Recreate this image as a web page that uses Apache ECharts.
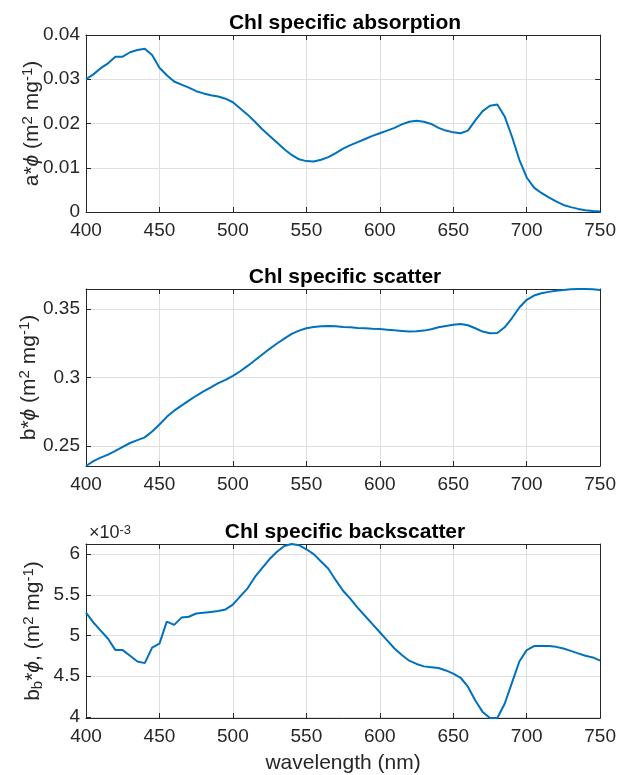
<!DOCTYPE html>
<html><head><meta charset="utf-8">
<script src="https://cdn.jsdelivr.net/npm/echarts@6/dist/echarts.min.js"></script>
<style>html,body{margin:0;padding:0;background:#fff}#c{width:619px;height:775px}</style>
</head><body><div id="c"></div>
<script>
// wavelength (nm)
const wavelength = [400,405,410,415,420,425,430,435,440,445,450,455,460,465,470,475,480,485,490,495,
  500,505,510,515,520,525,530,535,540,545,550,555,560,565,570,575,580,585,590,595,
  600,605,610,615,620,625,630,635,640,645,650,655,660,665,670,675,680,685,690,695,
  700,705,710,715,720,725,730,735,740,745,750];
// Chl specific absorption a*phi (m2 mg-1)
const absorption = [0.0300,0.0311,0.0325,0.0336,0.0351,0.0351,0.0361,0.0366,0.0369,0.0355,
  0.0326,0.0309,0.0295,0.0288,0.0281,0.0273,0.0268,0.0264,0.0261,0.0256,
  0.0248,0.0234,0.0220,0.0204,0.0187,0.0172,0.0157,0.0142,0.0129,0.0119,
  0.0115,0.0114,0.0118,0.0124,0.0133,0.0143,0.0151,0.0158,0.0165,0.0172,
  0.0178,0.0184,0.0190,0.0198,0.0204,0.0206,0.0204,0.0199,0.0190,0.0184,
  0.0180,0.0178,0.0184,0.0207,0.0228,0.0240,0.0243,0.0216,0.0170,0.0118,
  0.0078,0.0055,0.0043,0.0033,0.0024,0.0016,0.0011,0.0007,0.0004,0.0002,0.0001];
// Chl specific scatter b*phi (m2 mg-1)
const scatter = [0.2354,0.2389,0.2415,0.2437,0.2464,0.2493,0.2522,0.2543,0.2563,0.2606,
  0.2657,0.2713,0.2758,0.2795,0.2831,0.2867,0.2899,0.2928,0.2959,0.2983,
  0.3012,0.3046,0.3085,0.3126,0.3169,0.3210,0.3249,0.3285,0.3319,0.3343,
  0.3360,0.3370,0.3374,0.3377,0.3374,0.3370,0.3367,0.3362,0.3360,0.3357,
  0.3355,0.3350,0.3345,0.3341,0.3336,0.3338,0.3343,0.3353,0.3367,0.3377,
  0.3386,0.3391,0.3382,0.3360,0.3336,0.3324,0.3326,0.3367,0.3435,0.3512,
  0.3568,0.3599,0.3616,0.3626,0.3635,0.3640,0.3645,0.3647,0.3647,0.3645,0.3640];
// Chl specific backscatter bb*phi, in units of 10^-3 m2 mg-1
const backscatter = [5.28,5.16,5.06,4.96,4.82,4.82,4.75,4.68,4.66,4.85,
  4.90,5.17,5.13,5.22,5.23,5.27,5.28,5.29,5.30,5.32,
  5.38,5.48,5.58,5.72,5.83,5.94,6.03,6.10,6.125,6.11,
  6.06,6.00,5.91,5.82,5.68,5.55,5.45,5.34,5.24,5.14,
  5.04,4.94,4.84,4.76,4.69,4.65,4.62,4.61,4.60,4.57,
  4.53,4.48,4.37,4.20,4.06,3.985,3.985,4.16,4.42,4.68,
  4.82,4.87,4.87,4.87,4.86,4.84,4.81,4.78,4.75,4.73,4.69];
const absTicks = [0,0.01,0.02,0.03,0.04];
const scatTicks = [0.25,0.3,0.35];
const bbTicks = [4,4.5,5,5.5,6];
const titles = ['Chl specific absorption','Chl specific scatter','Chl specific backscatter'];

const FONT = "'Liberation Sans', Arial, Helvetica, sans-serif";
const AX = '#262626';
const GRIDC = '#dfdfdf';
const gridTops = [35, 289, 544];
const PH = 177;

function xAxes(i) {
  const common = {type:'value', gridIndex:i, min:400, max:750, interval:50,
    axisLine:{show:true, onZero:false, lineStyle:{color:AX, width:1}},
    axisTick:{show:true, inside:true, length:5, lineStyle:{color:AX}}};
  return [
    Object.assign({}, common, {position:'bottom',
      splitLine:{show:true, lineStyle:{color:GRIDC, width:1}},
      axisLabel:{show:true, color:AX, fontSize:19, fontFamily:FONT, margin:9},
      name: i===2 ? 'wavelength (nm)' : '', nameLocation:'middle', nameGap:35, nameMoveOverlap:false,
      nameTextStyle:{color:AX, fontSize:21, fontFamily:FONT}}),
    Object.assign({}, common, {position:'top', splitLine:{show:false}, axisLabel:{show:false}})
  ];
}
const richName = {
  n:{fontSize:21, fontFamily:FONT, color:AX, lineHeight:24},
  i:{fontSize:21, fontFamily:FONT, color:AX, fontStyle:'italic', lineHeight:24},
  sup:{fontSize:15, fontFamily:FONT, color:AX, verticalAlign:'top', lineHeight:15},
  sub:{fontSize:15, fontFamily:FONT, color:AX, verticalAlign:'bottom', lineHeight:15}
};
const yNames = [
  '{n|a*}{i|ϕ}{n| (m}{sup|2}{n| mg}{sup|-1}{n|)}',
  '{n|b*}{i|ϕ}{n| (m}{sup|2}{n| mg}{sup|-1}{n|)}',
  '{n|b}{sub|b}{n|*}{i|ϕ}{n|, (m}{sup|2}{n| mg}{sup|-1}{n|)}'
];
const yCfg = [
  {min:0, max:0.04, ticks:absTicks, gap:42},
  {min:'dataMin', max:'dataMax', ticks:scatTicks, gap:45},
  {min:'dataMin', max:'dataMax', ticks:bbTicks, gap:41}
];
function yAxes(i) {
  const c = yCfg[i];
  const common = {type:'value', gridIndex:i, min:c.min, max:c.max, scale:true,
    axisLine:{show:true, onZero:false, lineStyle:{color:AX, width:1}},
    axisTick:{show:true, inside:true, length:5, lineStyle:{color:AX}, customValues:c.ticks}};
  return [
    Object.assign({}, common, {position:'left',
      splitLine:{show:true, lineStyle:{color:GRIDC, width:1}},
      axisLabel:{show:true, color:AX, fontSize:19, fontFamily:FONT, margin:6, customValues:c.ticks},
      name:yNames[i], nameLocation:'middle', nameGap:c.gap, nameRotate:90, nameMoveOverlap:false,
      nameTextStyle:{color:AX, fontSize:21, fontFamily:FONT, rich:richName}}),
    Object.assign({}, common, {position:'right', splitLine:{show:false}, axisLabel:{show:false}})
  ];
}
const dataSets = [absorption, scatter, backscatter];
const option = {
  animation:false,
  backgroundColor:'#fff',
  title: titles.map((t,i)=>({text:t, left:340, textAlign:'center', top:gridTops[i]-27,
    textStyle:{fontSize:21, fontWeight:'bold', color:'#000', fontFamily:FONT}})),
  grid: gridTops.map(t=>({left:86, top:t, width:518, height:PH, containLabel:false})),
  xAxis: [].concat(xAxes(0), xAxes(1), xAxes(2)),
  yAxis: [].concat(yAxes(0), yAxes(1), yAxes(2)),
  series: dataSets.map((d,i)=>({type:'line', xAxisIndex:i*2, yAxisIndex:i*2,
    data: wavelength.map((w,k)=>[w, d[k]]), showSymbol:false, symbol:'none',
    lineStyle:{color:'#0072BD', width:2}, clip:false})),
  graphic:[{type:'text', left:89, top:524,
    style:{text:'×10{s|-3}', fill:AX, font:"18px "+FONT,
      rich:{s:{fontSize:13, fontFamily:FONT, fill:AX, verticalAlign:'top', lineHeight:13}}}}]
};
const chart = echarts.init(document.getElementById('c'), null, {renderer:'canvas'});
chart.setOption(option);
</script>
</body></html>
